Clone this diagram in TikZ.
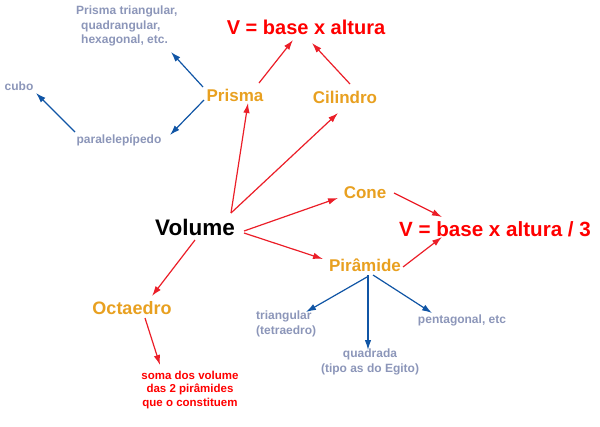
\documentclass[tikz,border=0pt]{standalone}
\usepackage{fontspec}
\setmainfont{Liberation Sans}
\usetikzlibrary{arrows.meta}
\definecolor{orng}{RGB}{232,160,32}
\definecolor{grayblue}{RGB}{140,150,185}
\definecolor{redline}{RGB}{235,30,40}
\definecolor{blueline}{RGB}{16,85,165}
\tikzset{
  base/.style={inner sep=0pt, font=\bfseries},
  big/.style={base, text=red, font=\fontsize{20}{24}\selectfont\bfseries},
  concept/.style={base, text=orng, font=\fontsize{17}{20}\selectfont\bfseries},
  small/.style={base, text=grayblue, font=\fontsize{12}{14.5}\selectfont\bfseries},
  smallred/.style={base, text=red, font=\fontsize{11.5}{13.5}\selectfont\bfseries},
  redarrow/.style={draw=redline, line width=1.2pt, -{Latex[length=10pt,width=6.5pt]}},
  bluearrow/.style={draw=blueline, line width=1.2pt, -{Latex[length=10pt,width=6.5pt]}},
}
\begin{document}
\begin{tikzpicture}[x=1pt,y=-1pt]
\useasboundingbox (0,0) rectangle (600,426);
\node[base, font=\fontsize{22.5}{26}\selectfont\bfseries] (Vol) at (195,227) {Volume};
\node[concept] (Prisma) at (235,95) {Prisma};
\node[concept] (Cil) at (345,97) {Cilindro};
\node[concept] (Cone) at (365,193) {Cone};
\node[concept] (Pir) at (365,265) {Pirâmide};
\node[concept, font=\fontsize{18}{20}\selectfont\bfseries] (Oct) at (132,308) {Octaedro};
\node[big] (Vf1) at (306,27) {V = base x altura};
\node[big, font=\fontsize{20.6}{24}\selectfont\bfseries] (Vf3) at (495,229) {V = base x altura / 3};
\node[small, anchor=west, align=left] (PT) at (76,26) {Prisma triangular,\\\hspace*{5pt}quadrangular,\\\hspace*{5pt}hexagonal, etc.};
\node[small] (cubo) at (19,86) {cubo};
\node[small] (para) at (119,140) {paralelepípedo};
\node[small, anchor=west, align=left] (tri) at (256,324) {triangular\\(tetraedro)};
\node[small] (pent) at (462,320) {pentagonal, etc};
\node[small, align=center] (quad) at (370,362) {quadrada\\(tipo as do Egito)};
\node[smallred, align=center] (soma) at (190,390) {soma dos volume\\das 2 pirâmides\\que o constituem};

\draw[redarrow] ([shift={(36,-14)}]Vol.center) -- ([shift={(13,8)}]Prisma.center);
\draw[redarrow] ([shift={(36,-14)}]Vol.center) -- ([shift={(-7,16)}]Cil.center);
\draw[redarrow] ([shift={(49,4)}]Vol.center) -- ([shift={(-27,5)}]Cone.center);
\draw[redarrow] ([shift={(49,6)}]Vol.center) -- ([shift={(-42,-6)}]Pir.center);
\draw[redarrow] ([shift={(0,13)}]Vol.center) -- ([shift={(20,-12)}]Oct.center);
\draw[redarrow] ([shift={(24,-12)}]Prisma.center) -- ([shift={(-13,13)}]Vf1.center);
\draw[redarrow] ([shift={(5,-13)}]Cil.center) -- ([shift={(6,16)}]Vf1.center);
\draw[redarrow] ([shift={(29,0)}]Cone.center) -- ([shift={(-53,-12)}]Vf3.center);
\draw[redarrow] ([shift={(38,2)}]Pir.center) -- ([shift={(-53,8)}]Vf3.center);
\draw[redarrow] ([shift={(13,10)}]Oct.center) -- ([shift={(-30,-25)}]soma.center);

\draw[bluearrow] ([shift={(-32,-8)}]Prisma.center) -- ([shift={(95,26)}]PT.west);
\draw[bluearrow] ([shift={(-31,5)}]Prisma.center) -- ([shift={(51,-5)}]para.center);
\draw[bluearrow] ([shift={(-44,-8)}]para.center) -- ([shift={(17,7)}]cubo.center);
\draw[bluearrow] ([shift={(2,12)}]Pir.center) -- ([shift={(50,-12)}]tri.west);
\draw[bluearrow] ([shift={(3,10)}]Pir.center) -- ([shift={(-2,-12)}]quad.center);
\draw[bluearrow] ([shift={(8,10)}]Pir.center) -- ([shift={(-30,-7)}]pent.center);
\end{tikzpicture}
\end{document}
